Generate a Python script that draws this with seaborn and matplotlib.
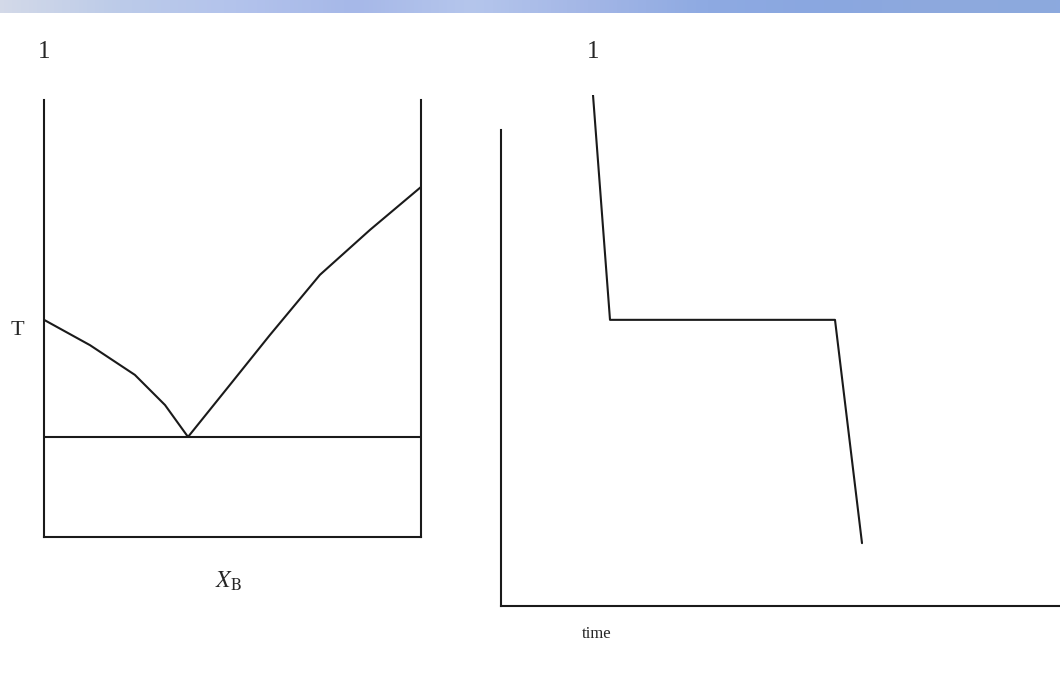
import numpy as np
import pandas as pd
import matplotlib
matplotlib.use('Agg')
from matplotlib import pyplot as plt
from matplotlib.colors import LinearSegmentedColormap
import seaborn as sns

sns.set_style('white')
plt.rcParams['font.family'] = ['Liberation Serif', 'DejaVu Serif']
plt.rcParams['mathtext.fontset'] = 'stix'

# phase diagram (X_B, T in 0..100 of the frame height)
liq_left_x = [0.0, 0.122, 0.241, 0.321, 0.382]
liq_left_t = [49.7, 43.9, 37.1, 30.2, 22.9]
liq_right_x = [0.382, 0.493, 0.599, 0.732, 0.865, 1.0]
liq_right_t = [22.9, 34.8, 46.2, 60.0, 70.3, 80.1]
eutectic_t = 22.9

# cooling curve (time, T)
cool_time = [1.84, 2.18, 6.68, 7.22]
cool_t = [100.0, 56.0, 56.0, 12.3]

# banner colours along the top strip
banner_colors = ['#d3d9e8', '#bccbe9', '#b3c3ec', '#a6b8e8', '#b5c6ec',
                 '#a3b6e6', '#8eaae2', '#8aa7e0', '#8ea9dd', '#8ca9de']

W, H = 1060, 683
fig = plt.figure(figsize=(W / 100, H / 100), dpi=100)

# top banner strip
bax = fig.add_axes([0, 1 - 13 / H, 1, 13 / H])
cmap = LinearSegmentedColormap.from_list('banner', banner_colors)
bax.imshow(np.linspace(0, 1, 256)[None, :], aspect='auto', cmap=cmap)
bax.axis('off')

line_kw = dict(color='#1a1a1a', linewidth=1.5)

# left panel: phase diagram
ax1 = fig.add_axes([44 / W, 1 - 537 / H, (421 - 44) / W, (537 - 100) / H])
sns.lineplot(x=liq_left_x, y=liq_left_t, ax=ax1, sort=False, **line_kw)
sns.lineplot(x=liq_right_x, y=liq_right_t, ax=ax1, sort=False, **line_kw)
ax1.axhline(eutectic_t, **line_kw)
ax1.set_xlim(0, 1)
ax1.set_ylim(0, 100)
ax1.set_xticks([])
ax1.set_yticks([])
ax1.spines['top'].set_visible(False)
for s in ['left', 'right', 'bottom']:
    ax1.spines[s].set_color('#1a1a1a')
    ax1.spines[s].set_linewidth(1.5)
ax1.set_xlabel(r'$X_{\mathrm{B}}$', fontsize=17)
ax1.xaxis.set_label_coords(0.49, -0.075)
ax1.set_ylabel('T', fontsize=16, rotation=0)
ax1.yaxis.set_label_coords(-0.07, 0.45)
ax1.text(0.0, 1.11, '1', transform=ax1.transAxes, fontsize=18, ha='center', va='center')

# right panel: cooling curve
ax2 = fig.add_axes([501 / W, 1 - 606 / H, (W - 501) / W, (606 - 95) / H])
sns.lineplot(x=cool_time, y=cool_t, ax=ax2, sort=False, **line_kw)
ax2.set_xlim(0, 11.18)
ax2.set_ylim(0, 100)
ax2.set_xticks([])
ax2.set_yticks([])
ax2.spines['top'].set_visible(False)
ax2.spines['right'].set_visible(False)
ax2.spines['left'].set_bounds(0, 93.2)
for s in ['left', 'bottom']:
    ax2.spines[s].set_color('#1a1a1a')
    ax2.spines[s].set_linewidth(1.5)
ax2.set_xlabel('time', fontsize=12)
ax2.xaxis.set_label_coords(0.171, -0.04)
ax2.text(1.84, 108.4, '1', fontsize=18, ha='center', va='center', clip_on=False)

fig.savefig('out.png', dpi=100)
